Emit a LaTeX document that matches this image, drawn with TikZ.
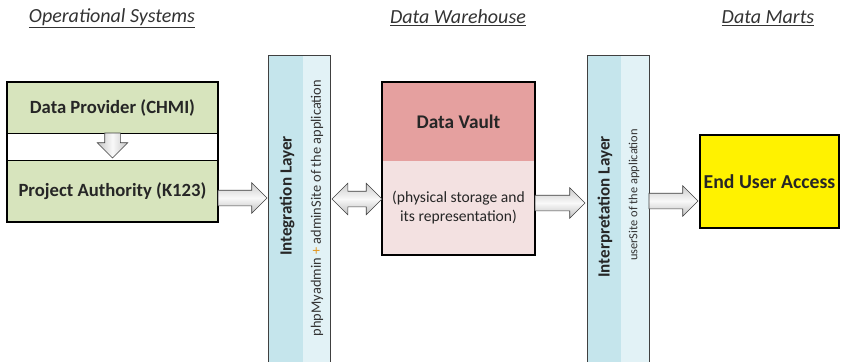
\documentclass[tikz,border=0pt]{standalone}
\usepackage{fontspec}
\setmainfont{Carlito}
\usetikzlibrary{shapes.arrows}

\definecolor{boxgreen}{RGB}{215,228,189}
\definecolor{vaultred}{RGB}{229,160,159}
\definecolor{vaultpink}{RGB}{243,225,225}
\definecolor{barblue}{RGB}{197,229,236}
\definecolor{barpale}{RGB}{226,242,246}
\definecolor{plusorange}{RGB}{226,150,30}

\newcommand{\px}{0.75pt}

\tikzstyle{heading}=[font=\fontsize{15}{17}\selectfont\itshape, text=black!80]
\tikzstyle{section}=[anchor=north west, inner sep=0pt, outer sep=0pt, text=black!85, font=\bfseries\fontsize{14}{16}\selectfont]
\tikzstyle{greenbox}=[section, draw, thin, fill=boxgreen]
\tikzstyle{bar}=[anchor=north west, inner sep=0pt, outer sep=0pt, minimum height=310*\px]
\tikzstyle{bartitle}=[rotate=90, text=black!85, font=\bfseries\fontsize{12.8}{14}\selectfont]
\tikzstyle{barnote}=[rotate=90, text=black!80, font=\fontsize{10.8}{12}\selectfont]
\tikzstyle{blockarrow}=[single arrow, draw=black!75, thin, inner xsep=0pt, inner ysep=7.5*\px, outer sep=0pt,
  single arrow head extend=7.5*\px, single arrow head indent=0pt, top color=gray!40, bottom color=gray!50, middle color=gray!5]
\tikzstyle{blockdouble}=[double arrow, draw=black!75, thin, inner xsep=0pt, inner ysep=7.5*\px, outer sep=0pt,
  double arrow head extend=8*\px, double arrow head indent=0pt, top color=gray!40, bottom color=gray!50, middle color=gray!5]

\begin{document}
\begin{tikzpicture}[x=\px, y=-\px]
		   \clip (0,0) rectangle (842,361);
		   % column headings
		   \begin{scope}
			   \node[heading] (h0) at (112,18) {\underline{Operational Systems}};
			   \node[heading] (h1) at (458,18) {\underline{Data Warehouse}};
			   \node[heading] (h2) at (768,18) {\underline{Data Marts}};
		   \end{scope}
		   % sources
		   \begin{scope}
			   \node[greenbox, minimum width=211*\px, minimum height=51*\px] (0) at (7,82) {Data Provider (CHMI)};
			   \node[greenbox, minimum width=211*\px, minimum height=62*\px] (1) at (7,160) {Project Authority (K123)};
			   \draw[line width=1.5pt] (0.north west) rectangle (1.south east);
		   \end{scope}
		   % integration layer
		   \begin{scope}
			   \node[bar, fill=barblue, minimum width=35*\px] (2) at (268,55) {};
			   \node[bar, fill=barpale, minimum width=27*\px] (3) at (303,55) {};
			   \draw[black!75] (2.north west) rectangle (3.south east);
			   \node[bartitle] (2t) at (287,196) {Integration Layer};
			   \node[barnote] (3t) at (317,208) {phpMyadmin {\color{plusorange}+} adminSite of the application};
		   \end{scope}
		   % data vault
		   \begin{scope}
			   \node[section, fill=vaultred, minimum width=153*\px, minimum height=79*\px, font=\bfseries\fontsize{14.5}{16}\selectfont] (4) at (382,82) {Data Vault};
			   \node[section, fill=vaultpink, minimum width=153*\px, minimum height=94*\px, align=center,
			     font=\fontsize{11.7}{14.3}\selectfont] (5) at (382,161) {(physical storage and\\its representation)};
			   \draw[line width=2pt] (4.north west) rectangle (5.south east);
		   \end{scope}
		   % interpretation layer
		   \begin{scope}
			   \node[bar, fill=barblue, minimum width=34*\px] (6) at (587,55) {};
			   \node[bar, fill=barpale, minimum width=28*\px] (7) at (621,55) {};
			   \draw[black!75] (6.north west) rectangle (7.south east);
			   \node[bartitle] (6t) at (605,207) {Interpretation Layer};
			   \node[barnote, font=\fontsize{9.3}{11}\selectfont] (7t) at (634,195) {userSite of the application};
		   \end{scope}
		   % end user access
		   \begin{scope}
			   \node[section, draw, line width=1.5pt, fill=yellow, minimum width=139*\px, minimum height=93*\px,
			     font=\bfseries\fontsize{14.8}{16}\selectfont] (8) at (700,135) {End User Access};
		   \end{scope}
		   % block arrows
		   \begin{scope}
			   \node[blockarrow, shape border rotate=270, inner xsep=7.5*\px, inner ysep=0pt, minimum height=25*\px, anchor=tail,
			     left color=gray!45, right color=gray!45, middle color=gray!5] (9) at (0.south) {};
			   \node[blockarrow, minimum height=49*\px, anchor=tail] (10) at (1.east |- 0,198) {};
			   \node[blockdouble, minimum height=50*\px] (11) at (357,199) {};
			   \node[blockarrow, minimum height=50*\px, anchor=tail] (12) at (5.east |- 0,203) {};
			   \node[blockarrow, minimum height=49*\px, anchor=tail] (13) at (7.east |- 0,201) {};
		   \end{scope}
\end{tikzpicture}
\end{document}
